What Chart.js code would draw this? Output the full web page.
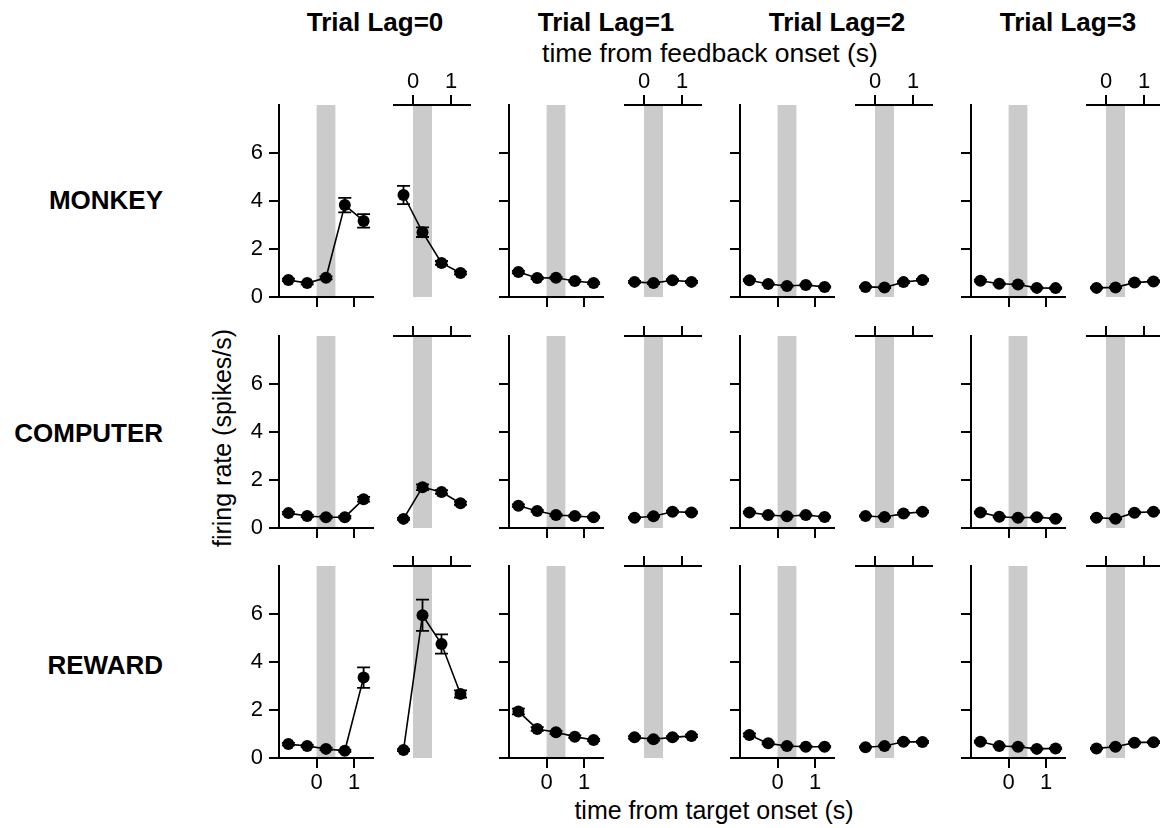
<!DOCTYPE html>
<html>
<head>
<meta charset="utf-8">
<script src="https://cdn.jsdelivr.net/npm/chart.js@4.4.0/dist/chart.umd.min.js"></script>
<style>
  body { margin: 0; background: #fff; }
  #fig { position: relative; width: 1160px; height: 828px; overflow: hidden;
         font-family: "Liberation Sans", Arial, sans-serif; color: #000; }
  #fig canvas { position: absolute; }
  .lbl { position: absolute; white-space: nowrap; transform: translate(-50%, -50%); }
  .title { font-weight: bold; font-size: 26px; top: 22px; }
  .row { position: absolute; left: 0; width: 163px; text-align: right; font-weight: bold;
         font-size: 26px; transform: translateY(-50%); }
  .axis { font-size: 25px; }
</style>
</head>
<body>
<div id="fig">
  <div class="lbl title" style="left:375px">Trial Lag=0</div>
  <div class="lbl title" style="left:606px">Trial Lag=1</div>
  <div class="lbl title" style="left:837px">Trial Lag=2</div>
  <div class="lbl title" style="left:1068px">Trial Lag=3</div>
  <div class="lbl axis" style="left:710px;top:53px;font-size:26.5px">time from feedback onset (s)</div>
  <div class="lbl axis" style="left:714px;top:810px">time from target onset (s)</div>
  <div class="lbl axis" style="left:222px;top:438px;transform:translate(-50%,-50%) rotate(-90deg)">firing rate (spikes/s)</div>
  <div class="row" style="top:200px">MONKEY</div>
  <div class="row" style="top:433px">COMPUTER</div>
  <div class="row" style="top:665px">REWARD</div>
</div>
<script>
// bin centres (s)
const targetTimes = [-0.75, -0.25, 0.25, 0.75, 1.25];
const feedbackTimes = [-0.25, 0.25, 0.75, 1.25];
const bandWindow = [0, 0.5];
const yTicks = [0, 2, 4, 6];
const xTicks = [0, 1];

// one inner array per trial lag (0..3)
const monkeyTarget = [[0.71, 0.58, 0.80, 3.83, 3.17], [1.04, 0.79, 0.80, 0.67, 0.58], [0.70, 0.54, 0.46, 0.50, 0.42], [0.68, 0.55, 0.52, 0.38, 0.37]];
const monkeyTargetErr = [[0.05, 0.05, 0.06, 0.30, 0.28], [0.05, 0.04, 0.04, 0.04, 0.04], [0.04, 0.03, 0.03, 0.03, 0.03], [0.04, 0.03, 0.03, 0.03, 0.03]];
const monkeyFeedback = [[4.25, 2.70, 1.42, 1.00], [0.63, 0.58, 0.70, 0.63], [0.42, 0.40, 0.62, 0.71], [0.38, 0.40, 0.60, 0.65]];
const monkeyFeedbackErr = [[0.38, 0.20, 0.08, 0.06], [0.04, 0.04, 0.04, 0.04], [0.03, 0.03, 0.04, 0.04], [0.03, 0.03, 0.04, 0.04]];

const computerTarget = [[0.62, 0.50, 0.45, 0.45, 1.20], [0.93, 0.71, 0.54, 0.50, 0.45], [0.65, 0.54, 0.49, 0.54, 0.46], [0.65, 0.47, 0.43, 0.45, 0.39]];
const computerTargetErr = [[0.05, 0.05, 0.05, 0.05, 0.10], [0.05, 0.04, 0.04, 0.04, 0.04], [0.04, 0.03, 0.03, 0.03, 0.03], [0.04, 0.03, 0.03, 0.03, 0.03]];
const computerFeedback = [[0.38, 1.70, 1.50, 1.03], [0.43, 0.49, 0.68, 0.65], [0.50, 0.46, 0.60, 0.68], [0.43, 0.39, 0.64, 0.68]];
const computerFeedbackErr = [[0.04, 0.12, 0.08, 0.07], [0.03, 0.03, 0.04, 0.04], [0.03, 0.03, 0.04, 0.04], [0.03, 0.03, 0.04, 0.04]];

const rewardTarget = [[0.58, 0.50, 0.38, 0.30, 3.35], [1.94, 1.21, 1.07, 0.89, 0.75], [0.96, 0.61, 0.50, 0.47, 0.47], [0.68, 0.50, 0.47, 0.38, 0.40]];
const rewardTargetErr = [[0.05, 0.05, 0.05, 0.04, 0.43], [0.12, 0.08, 0.06, 0.05, 0.05], [0.06, 0.04, 0.03, 0.03, 0.03], [0.04, 0.03, 0.03, 0.03, 0.03]];
const rewardFeedback = [[0.33, 5.95, 4.75, 2.67], [0.86, 0.78, 0.86, 0.92], [0.45, 0.50, 0.68, 0.67], [0.40, 0.47, 0.64, 0.66]];
const rewardFeedbackErr = [[0.04, 0.65, 0.40, 0.15], [0.05, 0.05, 0.05, 0.05], [0.03, 0.03, 0.04, 0.04], [0.03, 0.03, 0.04, 0.04]];

const rowsTarget = [monkeyTarget, computerTarget, rewardTarget];
const rowsTargetErr = [monkeyTargetErr, computerTargetErr, rewardTargetErr];
const rowsFeedback = [monkeyFeedback, computerFeedback, rewardFeedback];
const rowsFeedbackErr = [monkeyFeedbackErr, computerFeedbackErr, rewardFeedbackErr];

// layout (px)
const rowTops = [105, 336, 566];
const targetLefts = [279, 509, 740, 971];
const feedbackLefts = [394, 625, 856, 1087];
const plotH = 192, targetW = 94, feedbackW = 76;
const family = '"Liberation Sans", Arial, sans-serif';

const bandPlugin = {
  id: 'band',
  beforeDraw(chart) {
    const { ctx, chartArea, scales } = chart;
    const x0 = scales.x.getPixelForValue(bandWindow[0]);
    const x1 = scales.x.getPixelForValue(bandWindow[1]);
    ctx.save();
    ctx.fillStyle = '#cbcbcb';
    ctx.fillRect(x0, chartArea.top, x1 - x0, chartArea.bottom - chartArea.top);
    ctx.restore();
  }
};

const errPlugin = {
  id: 'errbars',
  beforeDatasetsDraw(chart) {
    const { ctx, scales } = chart;
    const ds = chart.data.datasets[0];
    ctx.save();
    ctx.strokeStyle = '#000';
    ctx.lineWidth = 1.8;
    ds.data.forEach((p, i) => {
      const e = ds.errors[i];
      if (!e) return;
      const px = scales.x.getPixelForValue(p.x);
      const lo = scales.y.getPixelForValue(p.y - e);
      const hi = scales.y.getPixelForValue(p.y + e);
      ctx.beginPath();
      ctx.moveTo(px, lo); ctx.lineTo(px, hi);
      ctx.moveTo(px - 6.5, lo); ctx.lineTo(px + 6.5, lo);
      ctx.moveTo(px - 6.5, hi); ctx.lineTo(px + 6.5, hi);
      ctx.stroke();
    });
    ctx.restore();
  }
};

function axisStyle() {
  return {
    grid: { drawOnChartArea: false, drawTicks: true, tickLength: 10, color: '#000', lineWidth: 2 },
    border: { display: true, color: '#000', width: 2 }
  };
}

function noPad(s) {
  s.paddingTop = 0; s.paddingBottom = 0; s.paddingLeft = 0; s.paddingRight = 0;
}

function makePanel(kind, row, lag) {
  const isTarget = kind === 'target';
  const times = isTarget ? targetTimes : feedbackTimes;
  const vals = (isTarget ? rowsTarget : rowsFeedback)[row][lag];
  const errs = (isTarget ? rowsTargetErr : rowsFeedbackErr)[row][lag];

  const canvas = document.createElement('canvas');
  let W, H, left, top;
  if (isTarget) {
    W = 50 + targetW + 6; H = 6 + plotH + 40;
    left = targetLefts[lag] - 50; top = rowTops[row] - 6;
  } else {
    W = 6 + feedbackW + 6; H = 40 + plotH + 6;
    left = feedbackLefts[lag] - 6; top = rowTops[row] - 40;
  }
  canvas.width = W; canvas.height = H;
  canvas.style.left = left + 'px';
  canvas.style.top = top + 'px';
  canvas.style.width = W + 'px';
  canvas.style.height = H + 'px';
  document.getElementById('fig').appendChild(canvas);

  const showX = isTarget ? row === 2 : row === 0;
  const xScale = Object.assign(axisStyle(), {
    type: 'linear',
    position: isTarget ? 'bottom' : 'top',
    min: isTarget ? -1 : -0.5,
    max: 1.5,
    afterBuildTicks: s => { s.ticks = xTicks.map(v => ({ value: v })); },
    afterFit: s => { s.height = 40; noPad(s); },
    ticks: { display: showX, color: '#000', font: { size: 22, family }, padding: isTarget ? 2 : 0, maxRotation: 0 }
  });
  const yScale = Object.assign(axisStyle(), {
    type: 'linear',
    display: isTarget,
    min: 0,
    max: 8,
    afterBuildTicks: s => { s.ticks = yTicks.map(v => ({ value: v })); },
    afterFit: s => { s.width = isTarget ? 50 : 0; noPad(s); },
    ticks: { display: isTarget && lag === 0, color: '#000', font: { size: 22, family }, padding: 6 }
  });

  new Chart(canvas, {
    type: 'line',
    data: {
      datasets: [{
        data: times.map((t, i) => ({ x: t, y: vals[i] })),
        errors: errs,
        borderColor: '#000',
        backgroundColor: '#000',
        borderWidth: 1.6,
        pointRadius: 6,
        pointHoverRadius: 6,
        pointBorderWidth: 0,
        tension: 0,
        clip: false
      }]
    },
    options: {
      responsive: false,
      animation: false,
      devicePixelRatio: 1,
      events: [],
      layout: { padding: isTarget ? { top: 6, right: 6, left: 0, bottom: 0 } : { top: 0, right: 6, left: 6, bottom: 6 } },
      plugins: { legend: { display: false }, tooltip: { enabled: false } },
      scales: { x: xScale, y: yScale }
    },
    plugins: [bandPlugin, errPlugin]
  });
}

for (let r = 0; r < 3; r++) {
  for (let l = 0; l < 4; l++) {
    makePanel('target', r, l);
    makePanel('feedback', r, l);
  }
}
</script>
</body>
</html>
